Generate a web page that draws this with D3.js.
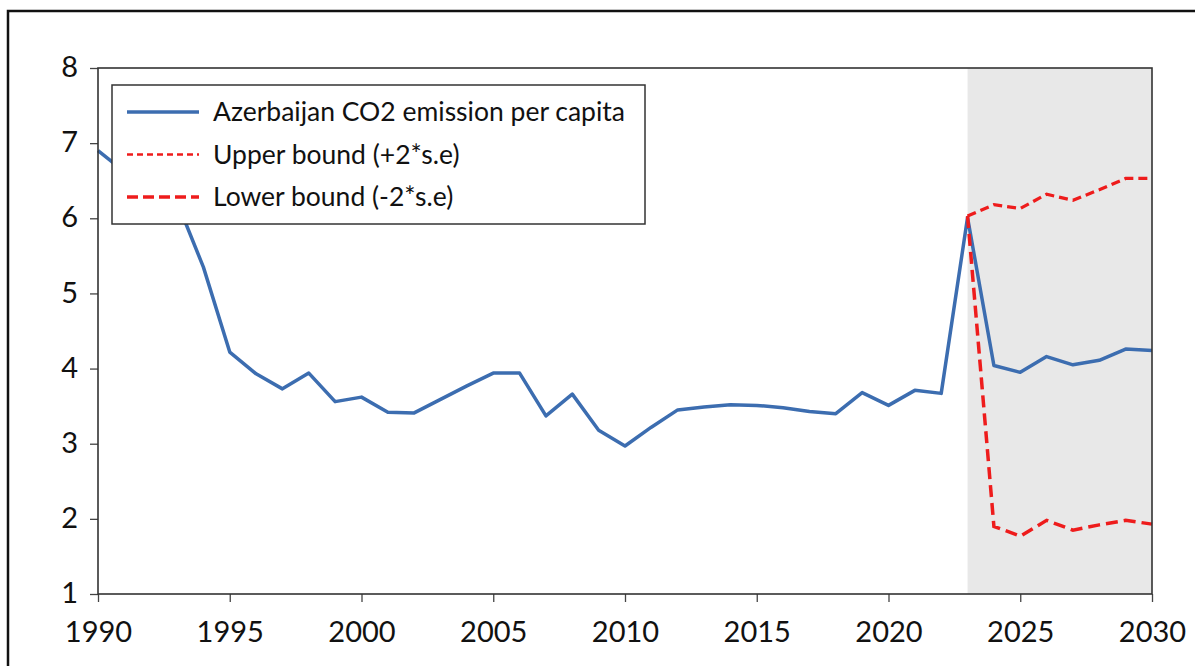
<!DOCTYPE html>
<html>
<head>
<meta charset="utf-8">
<script src="https://cdn.jsdelivr.net/npm/d3@7"></script>
<style>
  body { margin: 0; background: #fff; }
  svg { display: block; font-family: Lato, "Open Sans", sans-serif; }
</style>
</head>
<body>
<svg id="chart" width="1195" height="666"></svg>
<script>
/** Years for the observed series (1990..2030) */
var years = [1990,1991,1992,1993,1994,1995,1996,1997,1998,1999,
             2000,2001,2002,2003,2004,2005,2006,2007,2008,2009,
             2010,2011,2012,2013,2014,2015,2016,2017,2018,2019,
             2020,2021,2022,2023,2024,2025,2026,2027,2028,2029,2030];

/** Azerbaijan CO2 emission per capita */
var co2 = [6.90,6.62,6.45,6.22,5.35,4.22,3.93,3.73,3.94,3.56,
           3.62,3.42,3.41,3.59,3.77,3.94,3.94,3.37,3.66,3.18,
           2.97,3.22,3.45,3.49,3.52,3.51,3.48,3.43,3.40,3.68,
           3.51,3.71,3.67,6.01,4.04,3.95,4.16,4.05,4.11,4.26,4.24];

/** Forecast bounds, 2023..2030 */
var boundYears = [2023,2024,2025,2026,2027,2028,2029,2030];
var upper = [6.03,6.18,6.13,6.32,6.24,6.38,6.53,6.53];
var lower = [6.03,1.90,1.77,1.98,1.85,1.92,1.98,1.93];

var forecastStart = 2023;
var xTicks = [1990,1995,2000,2005,2010,2015,2020,2025,2030];
var yTicks = [1,2,3,4,5,6,7,8];

var legendItems = [
  {label: "Azerbaijan CO2 emission per capita", color: "#3c6db0", width: 3.5, dash: null},
  {label: "Upper bound (+2*s.e)", color: "#ee1c1c", width: 2.5, dash: "6,4"},
  {label: "Lower bound (-2*s.e)", color: "#ee1c1c", width: 3.5, dash: "11,5"}
];

var svg = d3.select("#chart");

// outer frame (partly cut off like in the picture)
svg.append("rect")
  .attr("x", 8).attr("y", 11)
  .attr("width", 1200).attr("height", 700)
  .attr("fill", "none").attr("stroke", "#111").attr("stroke-width", 2.5);

var margin = {left: 98, right: 43, top: 68, bottom: 72};
var w = 1195 - margin.left - margin.right,
    h = 666 - margin.top - margin.bottom;

var x = d3.scaleLinear().domain([1990, 2030]).range([margin.left, margin.left + w]);
var y = d3.scaleLinear().domain([1, 8]).range([margin.top + h, margin.top]);

// forecast shading
svg.append("rect")
  .attr("x", x(forecastStart)).attr("y", y(8))
  .attr("width", x(2030) - x(forecastStart))
  .attr("height", y(1) - y(8))
  .attr("fill", "#e8e8e8");

// axes
var xAxis = d3.axisBottom(x).tickValues(xTicks).tickFormat(d3.format("d"))
  .tickSize(8).tickSizeOuter(0).tickPadding(19);
var yAxis = d3.axisLeft(y).tickValues(yTicks).tickFormat(d3.format("d"))
  .tickSize(8).tickSizeOuter(0).tickPadding(12);

var gx = svg.append("g").attr("transform", "translate(0," + y(1) + ")").call(xAxis);
var gy = svg.append("g").attr("transform", "translate(" + x(1990) + ",0)").call(yAxis);

[gx, gy].forEach(function(g) {
  g.select(".domain").remove();
  g.selectAll("line").attr("stroke", "#444").attr("stroke-width", 1.3);
  g.selectAll("text").attr("fill", "#111").style("font-size", "29px")
    .style("font-family", "Lato, 'Open Sans', sans-serif");
});
gy.selectAll("text").attr("dy", "0.3em");

// lines
var line = d3.line()
  .x(function(d) { return x(d[0]); })
  .y(function(d) { return y(d[1]); });

svg.append("path")
  .datum(years.map(function(yr, i) { return [yr, co2[i]]; }))
  .attr("d", line)
  .attr("fill", "none").attr("stroke", legendItems[0].color)
  .attr("stroke-width", legendItems[0].width).attr("stroke-linejoin", "round");

svg.append("path")
  .datum(boundYears.map(function(yr, i) { return [yr, upper[i]]; }))
  .attr("d", line)
  .attr("fill", "none").attr("stroke", legendItems[1].color)
  .attr("stroke-width", 3.2).attr("stroke-dasharray", "9,5");

svg.append("path")
  .datum(boundYears.map(function(yr, i) { return [yr, lower[i]]; }))
  .attr("d", line)
  .attr("fill", "none").attr("stroke", legendItems[2].color)
  .attr("stroke-width", 3.5).attr("stroke-dasharray", "12,6");

// plot frame
svg.append("rect")
  .attr("x", x(1990)).attr("y", y(8))
  .attr("width", x(2030) - x(1990)).attr("height", y(1) - y(8))
  .attr("fill", "none").attr("stroke", "#333").attr("stroke-width", 1.6);

// legend
var lg = svg.append("g").attr("transform", "translate(112,85)");
lg.append("rect")
  .attr("width", 533).attr("height", 139)
  .attr("fill", "#fff").attr("stroke", "#333").attr("stroke-width", 1.5);

var rows = lg.selectAll("g.item").data(legendItems).enter().append("g")
  .attr("class", "item")
  .attr("transform", function(d, i) { return "translate(0," + (27 + i * 42.5) + ")"; });

rows.append("line")
  .attr("x1", 15).attr("x2", 87)
  .attr("stroke", function(d) { return d.color; })
  .attr("stroke-width", function(d) { return d.width; })
  .attr("stroke-dasharray", function(d) { return d.dash; });

rows.append("text")
  .attr("x", 101).attr("dy", "0.35em")
  .style("font-size", "26.5px").attr("fill", "#111")
  .text(function(d) { return d.label; });
</script>
</body>
</html>
